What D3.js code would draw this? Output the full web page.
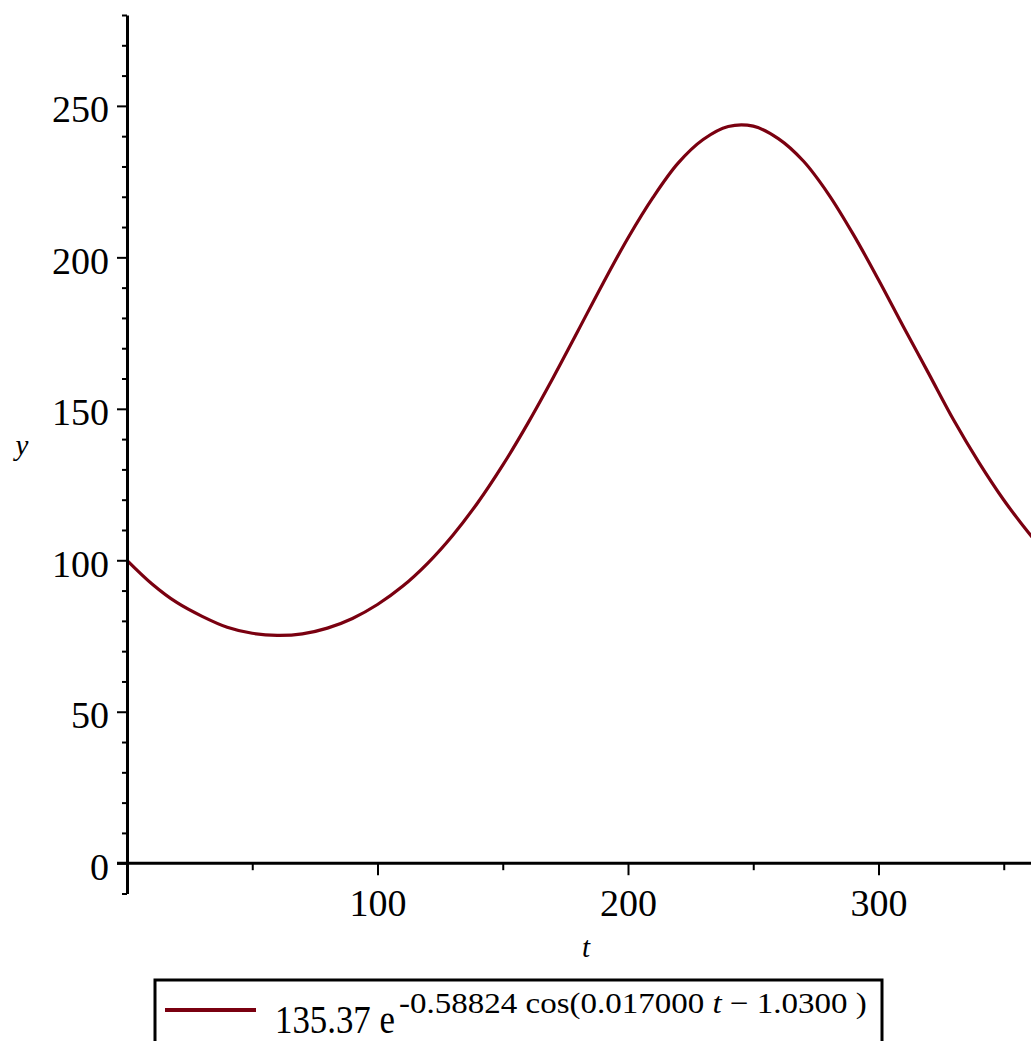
<!DOCTYPE html>
<html>
<head>
<meta charset="utf-8">
<script src="https://cdn.jsdelivr.net/npm/d3@7"></script>
<style>
  html, body { margin: 0; padding: 0; background: #fff; overflow: hidden; }
  text { font-family: "Liberation Serif", "Times New Roman", serif; }
</style>
</head>
<body>
<svg id="plot"></svg>
<script>
// values, every 10 units of t
const tValues = [0, 10, 20, 30, 40, 50, 60, 70, 80, 90, 100, 110, 120, 130, 140, 150, 160, 170, 180,
  190, 200, 210, 220, 230, 240, 250, 260, 270, 280, 290, 300, 310, 320, 330, 340, 350, 360, 365];
const yValues = [100.0, 92.2, 86.0, 81.5, 77.9, 75.9, 75.2, 75.7, 77.6, 80.8, 85.4, 91.4, 99.0, 108.2,
  119.0, 131.4, 145.2, 160.1, 175.7, 191.4, 206.4, 219.8, 231.1, 238.9, 243.2, 243.3, 239.2, 231.8,
  220.9, 207.5, 192.6, 177.0, 161.7, 146.3, 132.4, 119.9, 109.0, 104.1];
const xMajorTicks = [100, 200, 300];
const xMinorTicks = [50, 150, 250, 350];
const yMajorTicks = [0, 50, 100, 150, 200, 250];
const yMinorTicks = d3.range(-10, 281, 10).filter(v => v % 50 != 0);

const width = 1031, height = 1041;
const lineColor = "#7a0010";

const svg = d3.select("#plot")
    .attr("width", width)
    .attr("height", height)
    .attr("viewBox", [0, 0, width, height]);

// t = 0 sits on the y axis, the plot runs past the right edge of the window
const x = d3.scaleLinear([0, 365], [127, 127 + 365 * 2.505]);
const y = d3.scaleLinear([-10, 280], [893.5, 15]);

// curve
const line = d3.line()
    .x((d, i) => x(tValues[i]))
    .y(d => y(d))
    .curve(d3.curveCatmullRom);

svg.append("path")
    .attr("d", line(yValues))
    .attr("fill", "none")
    .attr("stroke", lineColor)
    .attr("stroke-width", 3.2);

// y axis
svg.append("g")
    .attr("transform", `translate(${x(0)},0)`)
    .call(d3.axisLeft(y).tickValues(yMajorTicks).tickSize(10).tickPadding(8).tickSizeOuter(0))
    .call(g => g.select(".domain").attr("stroke-width", 3))
    .call(g => g.selectAll(".tick line").attr("stroke-width", 2))
    .call(g => g.selectAll(".tick text")
        .attr("font-size", 38)
        .attr("font-family", "Liberation Serif")
        .attr("dy", 16));

svg.append("g")
    .attr("transform", `translate(${x(0)},0)`)
    .call(d3.axisLeft(y).tickValues(yMinorTicks).tickSize(5).tickFormat("").tickSizeOuter(0))
    .call(g => g.select(".domain").remove())
    .call(g => g.selectAll(".tick line").attr("stroke-width", 2));

// x axis
svg.append("g")
    .attr("transform", `translate(0,${y(0)})`)
    .call(d3.axisBottom(x).tickValues(xMajorTicks).tickSize(12).tickPadding(14).tickSizeOuter(0))
    .call(g => g.select(".domain").remove())
    .call(g => g.selectAll(".tick line").attr("stroke-width", 2))
    .call(g => g.selectAll(".tick text")
        .attr("font-size", 38)
        .attr("font-family", "Liberation Serif"));

svg.append("g")
    .attr("transform", `translate(0,${y(0)})`)
    .call(d3.axisBottom(x).tickValues(xMinorTicks).tickSize(7).tickFormat("").tickSizeOuter(0))
    .call(g => g.select(".domain").remove())
    .call(g => g.selectAll(".tick line").attr("stroke-width", 2));

svg.append("line")
    .attr("x1", 117).attr("x2", width)
    .attr("y1", y(0)).attr("y2", y(0))
    .attr("stroke", "#000")
    .attr("stroke-width", 3);

// axis titles
svg.append("text")
    .attr("x", 586).attr("y", 957)
    .attr("text-anchor", "middle")
    .attr("font-size", 29)
    .attr("font-style", "italic")
    .text("t");

svg.append("text")
    .attr("x", 22).attr("y", 455)
    .attr("text-anchor", "middle")
    .attr("font-size", 29)
    .attr("font-style", "italic")
    .text("y");

// legend
const legend = svg.append("g");
legend.append("rect")
    .attr("x", 155).attr("y", 980)
    .attr("width", 727).attr("height", 90)
    .attr("fill", "none")
    .attr("stroke", "#000")
    .attr("stroke-width", 3);
legend.append("line")
    .attr("x1", 165).attr("x2", 256)
    .attr("y1", 1010).attr("y2", 1010)
    .attr("stroke", lineColor)
    .attr("stroke-width", 4);

// squeeze a piece of legend text into the span [x0, x1] seen in the reference
function fitText(x0, x1, baseline, build) {
  const g = legend.append("g");
  const t = g.append("text");
  build(t);
  const w = t.node().getBBox().width;
  g.attr("transform", `translate(${x0},${baseline}) scale(${(x1 - x0) / w},1)`);
}

fitText(275, 395, 1033, t => t.attr("font-size", 41).text("135.37 e"));
fitText(399, 867, 1013, t => {
  t.attr("font-size", 30);
  t.append("tspan").text("-0.58824 cos(0.017000 ");
  t.append("tspan").attr("font-style", "italic").text("t");
  t.append("tspan").text(" \u2212 1.0300 )");
});
</script>
</body>
</html>
